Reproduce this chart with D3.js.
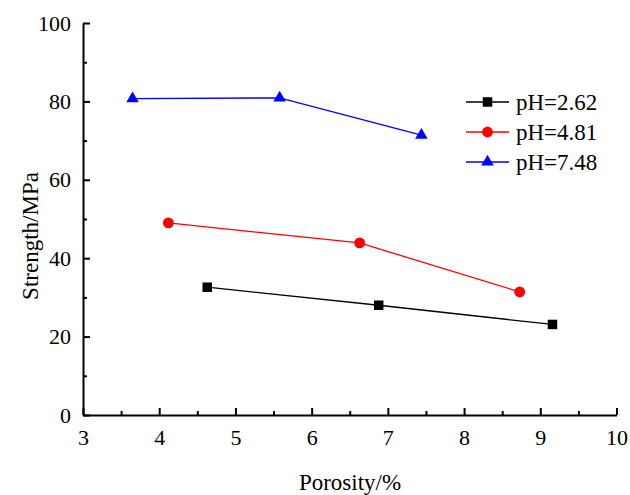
<!DOCTYPE html>
<html>
<head>
<meta charset="utf-8">
<script src="https://cdn.jsdelivr.net/npm/d3@7"></script>
<style>
  body { margin: 0; background: #fff; }
  text { font-family: "Liberation Serif", "Times New Roman", serif; fill: #000; }
</style>
</head>
<body>
<div id="chart"></div>
<script>
// data
const seriesNames = ['pH=2.62', 'pH=4.81', 'pH=7.48'];
const porosity262 = [4.63, 6.88, 9.16];
const strength262 = [32.6, 28.0, 23.1];
const porosity481 = [4.12, 6.63, 8.73];
const strength481 = [49.0, 43.9, 31.4];
const porosity748 = [3.65, 5.58, 7.44];
const strength748 = [80.7, 80.9, 71.4];
const xTicks = [3, 4, 5, 6, 7, 8, 9, 10];
const yTicks = [0, 20, 40, 60, 80, 100];

const colors = ['#000000', '#ff0000', '#0000ff'];
const shapes = [d3.symbolSquare, d3.symbolCircle, d3.symbolTriangle];
const sizes = [90, 92, 68];

const series = [
  { name: seriesNames[0], xs: porosity262, ys: strength262 },
  { name: seriesNames[1], xs: porosity481, ys: strength481 },
  { name: seriesNames[2], xs: porosity748, ys: strength748 },
];

const width = 630, height = 495;
const margin = { left: 83, top: 23, right: 14, bottom: 80 };

const svg = d3.select('#chart')
  .append('svg')
  .attr('width', width)
  .attr('height', height);

const x = d3.scaleLinear().domain([3, 10]).range([margin.left, 616.5]);
const y = d3.scaleLinear().domain([0, 100]).range([415, margin.top]);
const fmt = d3.format('d');

// axes (ticks point inward)
const xAxis = svg.append('g').attr('transform', 'translate(0,415)');
xAxis.append('g')
  .call(d3.axisBottom(x).tickValues(d3.range(3.5, 10, 1)).tickSize(-4).tickFormat(''))
  .call(g => g.select('.domain').remove());
xAxis.append('g')
  .call(d3.axisBottom(x).tickValues(xTicks).tickFormat(fmt).tickSize(-7).tickPadding(14).tickSizeOuter(0))
  .call(g => g.selectAll('text').attr('dy', '0.71em'));

const yAxis = svg.append('g').attr('transform', 'translate(' + margin.left + ',0)');
yAxis.append('g')
  .call(d3.axisLeft(y).tickValues(d3.range(10, 100, 20)).tickSize(-4).tickFormat(''))
  .call(g => g.select('.domain').remove());
yAxis.append('g')
  .call(d3.axisLeft(y).tickValues(yTicks).tickFormat(fmt).tickSize(-7).tickPadding(12).tickSizeOuter(0));

svg.selectAll('.domain, .tick line').attr('stroke', '#000').attr('stroke-width', 2);
svg.selectAll('.tick text')
  .attr('fill', '#000')
  .attr('font-family', '"Liberation Serif", serif')
  .attr('font-size', 22);

// axis titles
svg.append('text')
  .attr('x', 350).attr('y', 490)
  .attr('text-anchor', 'middle')
  .style('font-size', '23px')
  .text('Porosity/%');

svg.append('text')
  .attr('transform', 'translate(38,236) rotate(-90)')
  .attr('text-anchor', 'middle')
  .style('font-size', '23px')
  .text('Strength/MPa');

// lines and markers
const line = d3.line().x(d => x(d[0])).y(d => y(d[1]));
series.forEach((s, i) => {
  const pts = s.xs.map((v, j) => [v, s.ys[j]]);
  svg.append('path')
    .attr('d', line(pts))
    .attr('fill', 'none')
    .attr('stroke', colors[i])
    .attr('stroke-width', 1.3);
  svg.selectAll('.pt' + i)
    .data(pts)
    .enter()
    .append('path')
    .attr('transform', d => 'translate(' + x(d[0]) + ',' + y(d[1]) + ')')
    .attr('d', d3.symbol().type(shapes[i]).size(sizes[i]))
    .attr('fill', colors[i]);
});

// legend
const legend = svg.append('g').attr('transform', 'translate(466,102)');
series.forEach((s, i) => {
  const row = legend.append('g').attr('transform', 'translate(0,' + i * 30 + ')');
  row.append('line')
    .attr('x1', 0).attr('x2', 43)
    .attr('stroke', colors[i]).attr('stroke-width', 1.3);
  row.append('path')
    .attr('transform', 'translate(21.5,0)')
    .attr('d', d3.symbol().type(shapes[i]).size(sizes[i]))
    .attr('fill', colors[i]);
  row.append('text')
    .attr('x', 50).attr('y', 0).attr('dy', '0.35em')
    .style('font-size', '23px')
    .text(s.name);
});
</script>
</body>
</html>
